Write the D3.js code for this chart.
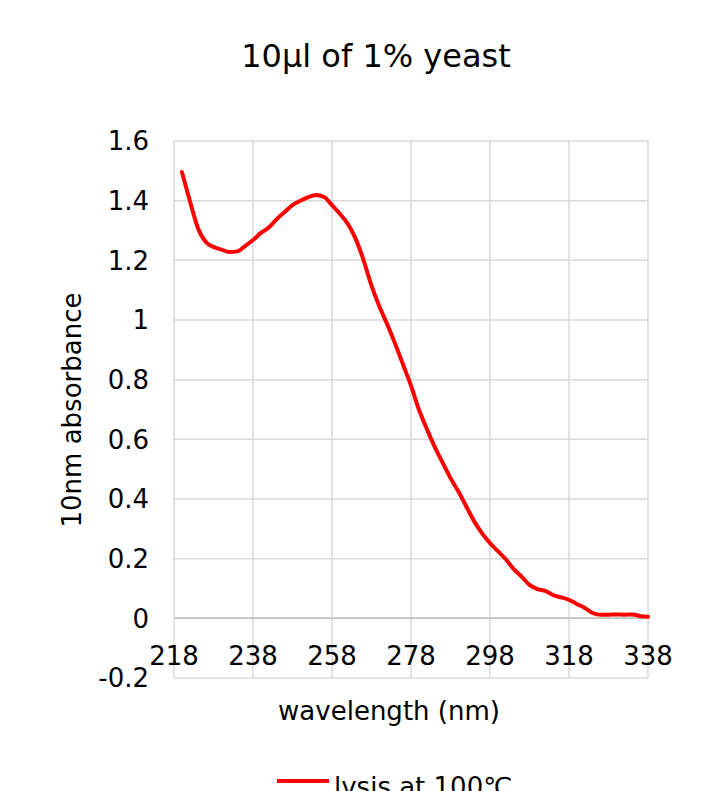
<!DOCTYPE html>
<html>
<head>
<meta charset="utf-8">
<script src="https://cdn.jsdelivr.net/npm/d3@7"></script>
<style>
  body { margin: 0; background: #fff; }
  svg text { font-family: "DejaVu Sans", Verdana, sans-serif; fill: #000; }
</style>
</head>
<body>
<div id="chart"></div>
<script>
// wavelength (nm) and absorbance readings
const wavelengths = [220, 222, 224, 226, 228, 230, 232, 234, 236, 238,
  240, 242, 244, 246, 248, 250, 252, 254, 256, 258,
  260, 262, 264, 266, 268, 270, 272, 274, 276, 278,
  280, 282, 284, 286, 288, 290, 292, 294, 296, 298,
  300, 302, 304, 306, 308, 310, 312, 314, 316, 318,
  320, 322, 324, 326, 328, 330, 332, 334, 336, 338];
const absorbance = [1.496, 1.40, 1.31, 1.262, 1.245, 1.236, 1.228, 1.23, 1.248, 1.268,
  1.292, 1.31, 1.338, 1.362, 1.385, 1.40, 1.412, 1.419, 1.412, 1.385,
  1.356, 1.322, 1.272, 1.20, 1.115, 1.045, 0.985, 0.92, 0.85, 0.78,
  0.70, 0.635, 0.575, 0.522, 0.47, 0.425, 0.375, 0.325, 0.285, 0.252,
  0.225, 0.198, 0.165, 0.14, 0.112, 0.098, 0.092, 0.078, 0.07, 0.062,
  0.048, 0.035, 0.018, 0.012, 0.012, 0.013, 0.012, 0.013, 0.008, 0.005];
const xTicks = [218, 238, 258, 278, 298, 318, 338];
const yTicks = [-0.2, 0, 0.2, 0.4, 0.6, 0.8, 1, 1.2, 1.4, 1.6];
const seriesName = 'lysis at 100\u2103';

const width = 719, height = 791;
const margin = { top: 141, right: 71, bottom: 113, left: 174 };

const svg = d3.select('#chart')
  .append('svg')
  .attr('width', width)
  .attr('height', height);

const x = d3.scaleLinear().domain([218, 338]).range([margin.left, width - margin.right]);
const y = d3.scaleLinear().domain([-0.2, 1.6]).range([height - margin.bottom, margin.top]);

// gridlines
svg.append('g')
  .selectAll('line.h')
  .data(yTicks)
  .enter().append('line')
  .attr('x1', x(218)).attr('x2', x(338))
  .attr('y1', d => y(d)).attr('y2', d => y(d))
  .attr('stroke', d => d === 0 ? '#bfbfbf' : '#d9d9d9')
  .attr('stroke-width', 1.5);

svg.append('g')
  .selectAll('line.v')
  .data(xTicks)
  .enter().append('line')
  .attr('y1', y(-0.2)).attr('y2', y(1.6))
  .attr('x1', d => x(d)).attr('x2', d => x(d))
  .attr('stroke', '#d9d9d9')
  .attr('stroke-width', 1.5);

// zero line on top of vertical grid
svg.append('line')
  .attr('x1', x(218)).attr('x2', x(338))
  .attr('y1', y(0)).attr('y2', y(0))
  .attr('stroke', '#bfbfbf').attr('stroke-width', 1.5);

// y tick labels (plain hyphen like Excel)
svg.append('g')
  .selectAll('text')
  .data(yTicks)
  .enter().append('text')
  .attr('x', 149)
  .attr('y', d => y(d))
  .attr('dy', '0.36em')
  .attr('text-anchor', 'end')
  .style('font-size', '26px')
  .text(d => String(d));

// x tick labels sit just under the zero line
svg.append('g')
  .selectAll('text')
  .data(xTicks)
  .enter().append('text')
  .attr('x', d => x(d))
  .attr('y', y(0) + 47)
  .attr('text-anchor', 'middle')
  .style('font-size', '26px')
  .text(d => d);

// the series
const line = d3.line()
  .x((d, i) => x(wavelengths[i]))
  .y(d => y(d))
  .curve(d3.curveMonotoneX);

svg.append('path')
  .datum(absorbance)
  .attr('d', line)
  .attr('fill', 'none')
  .attr('stroke', '#ff0000')
  .attr('stroke-width', 4)
  .attr('stroke-linejoin', 'round')
  .attr('stroke-linecap', 'round');

// titles
svg.append('text')
  .attr('x', 376).attr('y', 67)
  .attr('text-anchor', 'middle')
  .style('font-size', '32px')
  .text('10\u00b5l of 1% yeast');

svg.append('text')
  .attr('x', 389).attr('y', 720)
  .attr('text-anchor', 'middle')
  .style('font-size', '26px')
  .text('wavelength (nm)');

svg.append('text')
  .attr('transform', 'translate(81,410) rotate(-90)')
  .attr('text-anchor', 'middle')
  .style('font-size', '26px')
  .text('10nm absorbance');

// legend
const legend = svg.append('g');
legend.append('line')
  .attr('x1', 277).attr('x2', 329)
  .attr('y1', 781).attr('y2', 781)
  .attr('stroke', '#ff0000').attr('stroke-width', 4);
legend.append('text')
  .attr('x', 334).attr('y', 796)
  .style('font-size', '26px')
  .text(seriesName);
</script>
</body>
</html>
